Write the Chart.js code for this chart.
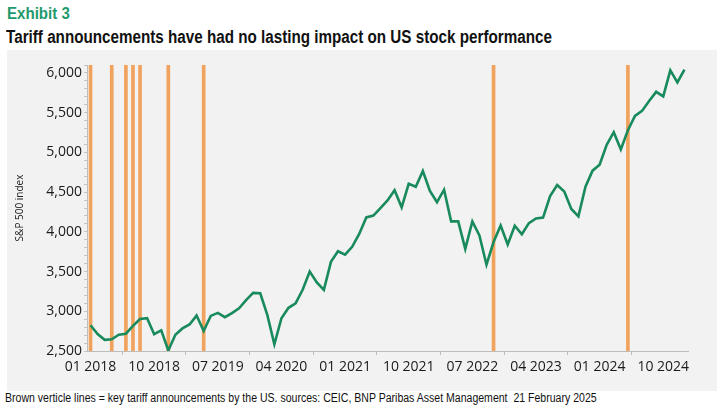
<!DOCTYPE html>
<html>
<head>
<meta charset="utf-8">
<script src="https://cdn.jsdelivr.net/npm/chart.js@4.4.1/dist/chart.umd.min.js"></script>
<style>
  html, body { margin: 0; padding: 0; background: #fff; }
  body { width: 725px; height: 408px; position: relative; overflow: hidden; font-family: "Liberation Sans Narrow", "Liberation Sans", sans-serif; }
  .fit { position: absolute; white-space: nowrap; transform-origin: 0 0; }
  #exhibit { left: 7px; top: 4px; font-size: 17px; font-weight: bold; color: #1f9a6b; }
  #title { left: 6px; top: 27px; font-size: 17.5px; font-weight: bold; color: #111; }
  #panel { position: absolute; left: 7px; top: 50px; width: 710px; height: 341px; background: #f2f2f2; }
  #footer { left: 5px; top: 391px; font-size: 12px; color: #111; }
</style>
</head>
<body>
<div id="exhibit" class="fit" data-w="63">Exhibit 3</div>
<div id="title" class="fit" data-w="546">Tariff announcements have had no lasting impact on US stock performance</div>
<div id="panel"><canvas id="chart" width="710" height="341"></canvas></div>
<div id="footer" class="fit" data-w="592">Brown verticle lines = key tariff announcements by the US. sources: CEIC, BNP Paribas Asset Management&nbsp; 21 February 2025</div>
<script>
// S&P 500 month-end level, 01 2018 .. 01 2025
const spx = [
  2824, 2714, 2641, 2648, 2705, 2718, 2816, 2902, 2914, 2712, 2760, 2507,
  2704, 2784, 2834, 2946, 2752, 2942, 2980, 2926, 2977, 3038, 3141, 3231,
  3226, 2954, 2585, 2912, 3044, 3100, 3271, 3500, 3363, 3270, 3622, 3756,
  3714, 3811, 3973, 4181, 4204, 4298, 4395, 4523, 4308, 4605, 4567, 4766,
  4516, 4374, 4530, 4132, 4132, 3785, 4130, 3955, 3586, 3872, 4080, 3840,
  4077, 3970, 4109, 4169, 4180, 4450, 4589, 4508, 4288, 4194, 4568, 4770,
  4846, 5096, 5254, 5036, 5278, 5460, 5522, 5648, 5762, 5705, 6032, 5882,
  6041
];
const tariffMonths = ['01 2018', '04 2018', '06 2018', '07 2018', '08 2018', '12 2018', '05 2019', '10 2022', '05 2024'];
const tickLabels = ['01 2018', '10 2018', '07 2019', '04 2020', '01 2021', '10 2021', '07 2022', '04 2023', '01 2024', '10 2024'];
const yMin = 2500, yMax = 6100;

// squeeze the text lines to the narrow width of the original font
document.querySelectorAll('.fit').forEach(function (el) {
  const w = +el.dataset.w;
  el.style.transform = 'scaleX(' + (w / el.offsetWidth) + ')';
});

// month labels "MM YYYY"
const months = spx.map(function (v, i) {
  const m = i % 12 + 1;
  const y = 2018 + Math.floor(i / 12);
  return (m < 10 ? '0' + m : '' + m) + ' ' + y;
});
const tariffBars = months.map(function (m) {
  return tariffMonths.includes(m) ? [yMin, yMax] : null;
});

const ctx = document.getElementById('chart').getContext('2d');
new Chart(ctx, {
  data: {
    labels: months,
    datasets: [{
      type: 'line',
      label: 'S&P 500',
      data: spx,
      borderColor: '#188a5c',
      borderWidth: 2.6,
      pointRadius: 0,
      tension: 0,
      order: 1
    }, {
      type: 'bar',
      label: 'Tariff announcements',
      data: tariffBars,
      backgroundColor: '#f1a25d',
      barThickness: 3,
      order: 2
    }]
  },
  options: {
    responsive: false,
    animation: false,
    layout: { padding: { top: 15, right: 29, left: 0, bottom: 0 } },
    plugins: { legend: { display: false }, tooltip: { enabled: false } },
    scales: {
      x: {
        offset: true,
        grid: { offset: true, drawOnChartArea: false, tickLength: 4, tickColor: '#bdbdbd' },
        border: { color: '#bdbdbd' },
        ticks: {
          autoSkip: false,
          maxRotation: 0,
          padding: 4,
          color: '#1a1a1a',
          font: { family: 'Open Sans', size: 14 },
          callback: function (val, i) {
            const l = months[i];
            return tickLabels.includes(l) ? l : null;
          }
        },
        afterFit: function (scale) { scale.height = 40; }
      },
      y: {
        min: yMin,
        max: yMax,
        grid: { drawOnChartArea: false, tickLength: 3, tickColor: '#c4c4c4' },
        border: { color: '#bdbdbd' },
        ticks: {
          autoSkip: false,
          stepSize: 100,
          padding: 2,
          color: '#1a1a1a',
          font: { family: 'Open Sans', size: 14 },
          callback: function (v) { return v % 500 === 0 ? v.toLocaleString('en-US') : ''; }
        },
        title: {
          display: true,
          text: 'S&P 500 index',
          color: '#222',
          font: { family: 'Open Sans', size: 10 },
          padding: { top: 7, bottom: 0 }
        },
        afterFit: function (scale) { scale.width = 80; }
      }
    }
  }
});
</script>
</body>
</html>
